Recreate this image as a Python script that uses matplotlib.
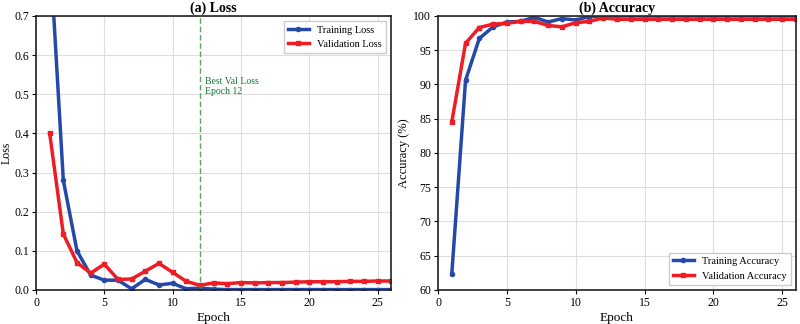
import matplotlib.pyplot as plt
import numpy as np

plt.rcParams['font.family'] = ['Liberation Serif', 'DejaVu Serif']
plt.rcParams['font.size'] = 8

epochs = np.arange(1, 27)

train_loss = [0.88, 0.28, 0.10, 0.038, 0.025, 0.025, 0.003, 0.027, 0.013, 0.017,
              0.003, 0.005, 0.002, 0.001, 0.001, 0.001, 0.001, 0.001, 0.001, 0.001,
              0.001, 0.001, 0.001, 0.001, 0.001, 0.001]
val_loss = [0.40, 0.143, 0.070, 0.043, 0.066, 0.027, 0.028, 0.048, 0.068, 0.045,
            0.022, 0.012, 0.018, 0.016, 0.019, 0.018, 0.019, 0.019, 0.020, 0.021,
            0.021, 0.021, 0.022, 0.022, 0.023, 0.023]

train_acc = [62.3, 90.6, 96.7, 98.4, 99.1, 99.2, 99.8, 99.1, 99.6, 99.4,
             99.9, 100.0, 100.0, 100.0, 100.0, 100.0, 100.0, 100.0, 100.0, 100.0,
             100.0, 100.0, 100.0, 100.0, 100.0, 100.0]
val_acc = [84.5, 96.0, 98.3, 98.8, 98.9, 99.2, 99.2, 98.6, 98.4, 99.0,
           99.2, 99.7, 99.5, 99.5, 99.5, 99.5, 99.5, 99.5, 99.5, 99.5,
           99.5, 99.5, 99.5, 99.5, 99.5, 99.5]

best_epoch = 12

azul = '#2449a8'
vermelho = '#ee1c24'

fig = plt.figure(figsize=(8, 3.24), dpi=100)
ax1 = fig.add_axes([0.045, 0.105, 0.444, 0.846])
ax2 = fig.add_axes([0.5475, 0.105, 0.4475, 0.846])

# (a) perdas
ax1.plot(epochs, train_loss, color=azul, lw=2.5, marker='o', ms=3, label='Training Loss')
ax1.plot(epochs, val_loss, color=vermelho, lw=2.5, marker='s', ms=3, label='Validation Loss')
ax1.axvline(best_epoch, color='#3a8a3a', ls=(0, (4, 2)), lw=1, alpha=0.8)
ax1.text(best_epoch + 0.4, 0.52, f'Best Val Loss\nEpoch {best_epoch}', color='#137a2e',
         fontsize=7, va='center', ha='left', linespacing=1.1)
ax1.set_xlim(0, 26)
ax1.set_ylim(0, 0.7)
ax1.set_xlabel('Epoch', fontsize=9.5, labelpad=2)
ax1.set_ylabel('Loss', fontsize=8.5, labelpad=1)
ax1.set_title('(a) Loss', fontweight='bold', fontsize=10, pad=3)
ax1.legend(loc='upper right', fontsize=7.5, fancybox=False, edgecolor='#cccccc', framealpha=1)

# (b) acuracia
ax2.plot(epochs, train_acc, color=azul, lw=2.5, marker='o', ms=3, label='Training Accuracy')
ax2.plot(epochs, val_acc, color=vermelho, lw=2.5, marker='s', ms=3, label='Validation Accuracy')
ax2.set_xlim(0, 26)
ax2.set_ylim(60, 100)
ax2.set_xlabel('Epoch', fontsize=9.5, labelpad=2)
ax2.set_ylabel('Accuracy (%)', fontsize=9, labelpad=2)
ax2.set_title('(b) Accuracy', fontweight='bold', fontsize=10, pad=3)
ax2.legend(loc='lower right', fontsize=7.5, fancybox=False, edgecolor='#cccccc', framealpha=1)

for ax in (ax1, ax2):
    ax.grid(True, color='#dddddd', lw=0.8)
    ax.set_axisbelow(True)
    ax.tick_params(labelsize=8.5, length=3, pad=2)
    for s in ax.spines.values():
        s.set_linewidth(1.2)
        s.set_color('#222222')

plt.savefig('out.png', dpi=100)
